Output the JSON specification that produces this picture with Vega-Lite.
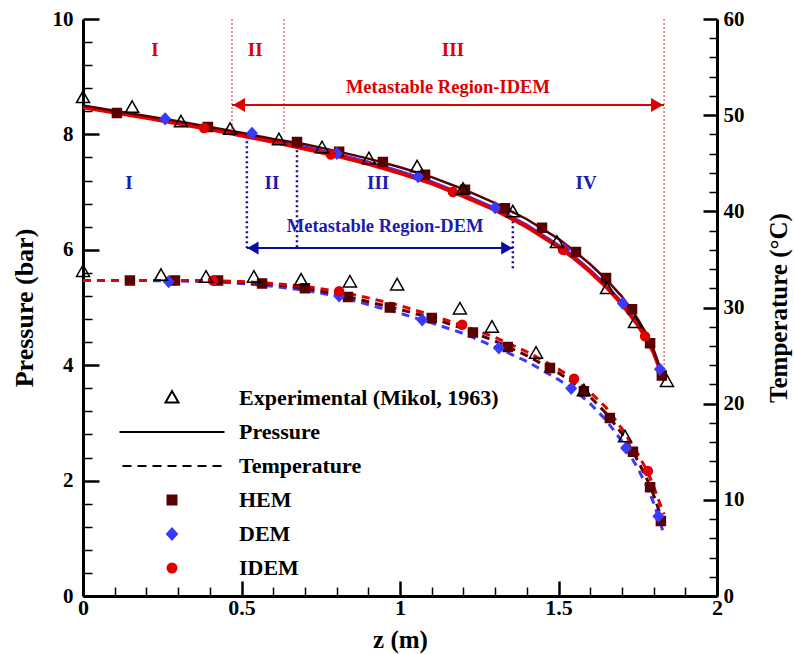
{
  "$schema": "https://vega.github.io/schema/vega-lite/v6.json",
  "width": 634,
  "height": 577,
  "autosize": {"type": "none"},
  "padding": {"left": 83, "top": 19, "right": 77, "bottom": 58},
  "background": "white",
  "config": {
    "view": {"stroke": null},
    "font": "Liberation Serif",
    "axis": {
      "grid": false, "domainColor": "black", "tickColor": "black", "labelColor": "black", "titleColor": "black",
      "labelFont": "Liberation Serif", "titleFont": "Liberation Serif", "labelFontWeight": "bold", "titleFontWeight": "bold",
      "labelFontSize": 21, "titleFontSize": 26, "domainWidth": 3, "labelOverlap": false, "labelFlush": false
    }
  },
  "datasets": {
    "redV": [
      {"z": 0.47, "p": 10, "p2": 8.08},
      {"z": 0.634, "p": 10, "p2": 8.04},
      {"z": 1.833, "p": 10, "p2": 3.78}
    ],
    "blueV": [
      {"z": 0.517, "p": 7.97, "p2": 6.03},
      {"z": 0.675, "p": 7.9, "p2": 6.03},
      {"z": 1.356, "p": 6.67, "p2": 5.65}
    ],
    "redArrow": [{"z": 0.47, "z2": 1.833, "p": 8.51}],
    "blueArrow": [{"z": 0.517, "z2": 1.356, "p": 6.03}],
    "redHeadL": [{"z": 0.492, "p": 8.51}],
    "redHeadR": [{"z": 1.811, "p": 8.51}],
    "blueHeadL": [{"z": 0.536, "p": 6.03}],
    "blueHeadR": [{"z": 1.337, "p": 6.03}],
    "redText": [
      {"z": 0.227, "p": 9.46, "t": "I", "s": 19},
      {"z": 0.543, "p": 9.46, "t": "II", "s": 19},
      {"z": 1.167, "p": 9.46, "t": "III", "s": 19},
      {"z": 1.151, "p": 8.82, "t": "Metastable Region-IDEM", "s": 18.5}
    ],
    "blueText": [
      {"z": 0.145, "p": 7.16, "t": "I", "s": 19},
      {"z": 0.596, "p": 7.16, "t": "II", "s": 19},
      {"z": 0.931, "p": 7.16, "t": "III", "s": 19},
      {"z": 1.587, "p": 7.16, "t": "IV", "s": 19},
      {"z": 0.953, "p": 6.41, "t": "Metastable Region-DEM", "s": 18.5}
    ],
    "pl": [
      {"series": "DEM", "z": 0, "p": 8.49}, {"series": "DEM", "z": 0.1, "p": 8.4}, {"series": "DEM", "z": 0.2, "p": 8.31}, {"series": "DEM", "z": 0.3, "p": 8.21}, {"series": "DEM", "z": 0.4, "p": 8.11}, {"series": "DEM", "z": 0.5, "p": 8.01}, {"series": "DEM", "z": 0.6, "p": 7.9}, {"series": "DEM", "z": 0.7, "p": 7.79}, {"series": "DEM", "z": 0.8, "p": 7.67}, {"series": "DEM", "z": 0.9, "p": 7.53}, {"series": "DEM", "z": 1.0, "p": 7.37}, {"series": "DEM", "z": 1.1, "p": 7.19}, {"series": "DEM", "z": 1.2, "p": 6.97}, {"series": "DEM", "z": 1.3, "p": 6.73}, {"series": "DEM", "z": 1.4, "p": 6.44}, {"series": "DEM", "z": 1.5, "p": 6.09}, {"series": "DEM", "z": 1.55, "p": 5.89}, {"series": "DEM", "z": 1.6, "p": 5.66}, {"series": "DEM", "z": 1.65, "p": 5.4}, {"series": "DEM", "z": 1.7, "p": 5.1}, {"series": "DEM", "z": 1.75, "p": 4.72}, {"series": "DEM", "z": 1.78, "p": 4.45}, {"series": "DEM", "z": 1.8, "p": 4.22}, {"series": "DEM", "z": 1.82, "p": 3.93}, {"series": "DEM", "z": 1.833, "p": 3.74},
      {"series": "IDEM", "z": 0, "p": 8.47}, {"series": "IDEM", "z": 0.1, "p": 8.38}, {"series": "IDEM", "z": 0.2, "p": 8.29}, {"series": "IDEM", "z": 0.3, "p": 8.19}, {"series": "IDEM", "z": 0.4, "p": 8.09}, {"series": "IDEM", "z": 0.5, "p": 7.98}, {"series": "IDEM", "z": 0.6, "p": 7.87}, {"series": "IDEM", "z": 0.7, "p": 7.75}, {"series": "IDEM", "z": 0.8, "p": 7.63}, {"series": "IDEM", "z": 0.9, "p": 7.49}, {"series": "IDEM", "z": 1.0, "p": 7.33}, {"series": "IDEM", "z": 1.1, "p": 7.15}, {"series": "IDEM", "z": 1.2, "p": 6.93}, {"series": "IDEM", "z": 1.3, "p": 6.69}, {"series": "IDEM", "z": 1.4, "p": 6.4}, {"series": "IDEM", "z": 1.5, "p": 6.05}, {"series": "IDEM", "z": 1.55, "p": 5.85}, {"series": "IDEM", "z": 1.6, "p": 5.62}, {"series": "IDEM", "z": 1.65, "p": 5.36}, {"series": "IDEM", "z": 1.7, "p": 5.06}, {"series": "IDEM", "z": 1.75, "p": 4.7}, {"series": "IDEM", "z": 1.78, "p": 4.44}, {"series": "IDEM", "z": 1.8, "p": 4.22}, {"series": "IDEM", "z": 1.82, "p": 3.93}, {"series": "IDEM", "z": 1.833, "p": 3.74},
      {"series": "HEM", "z": 0, "p": 8.5}, {"series": "HEM", "z": 0.1, "p": 8.41}, {"series": "HEM", "z": 0.2, "p": 8.32}, {"series": "HEM", "z": 0.3, "p": 8.23}, {"series": "HEM", "z": 0.4, "p": 8.13}, {"series": "HEM", "z": 0.5, "p": 8.03}, {"series": "HEM", "z": 0.6, "p": 7.92}, {"series": "HEM", "z": 0.7, "p": 7.83}, {"series": "HEM", "z": 0.8, "p": 7.71}, {"series": "HEM", "z": 0.9, "p": 7.58}, {"series": "HEM", "z": 1.0, "p": 7.43}, {"series": "HEM", "z": 1.1, "p": 7.26}, {"series": "HEM", "z": 1.2, "p": 7.05}, {"series": "HEM", "z": 1.3, "p": 6.81}, {"series": "HEM", "z": 1.4, "p": 6.53}, {"series": "HEM", "z": 1.5, "p": 6.19}, {"series": "HEM", "z": 1.55, "p": 5.98}, {"series": "HEM", "z": 1.6, "p": 5.75}, {"series": "HEM", "z": 1.65, "p": 5.49}, {"series": "HEM", "z": 1.7, "p": 5.19}, {"series": "HEM", "z": 1.75, "p": 4.8}, {"series": "HEM", "z": 1.78, "p": 4.52}, {"series": "HEM", "z": 1.8, "p": 4.27}, {"series": "HEM", "z": 1.82, "p": 3.95}, {"series": "HEM", "z": 1.833, "p": 3.76}
    ],
    "tl": [
      {"series": "DEM", "z": 0, "T": 32.8}, {"series": "DEM", "z": 0.2, "T": 32.8}, {"series": "DEM", "z": 0.4, "T": 32.7}, {"series": "DEM", "z": 0.5, "T": 32.5}, {"series": "DEM", "z": 0.6, "T": 32.2}, {"series": "DEM", "z": 0.7, "T": 31.8}, {"series": "DEM", "z": 0.8, "T": 31.2}, {"series": "DEM", "z": 0.9, "T": 30.3}, {"series": "DEM", "z": 1.0, "T": 29.4}, {"series": "DEM", "z": 1.1, "T": 28.4}, {"series": "DEM", "z": 1.2, "T": 27.3}, {"series": "DEM", "z": 1.3, "T": 25.9}, {"series": "DEM", "z": 1.4, "T": 24.4}, {"series": "DEM", "z": 1.5, "T": 22.5}, {"series": "DEM", "z": 1.55, "T": 21.4}, {"series": "DEM", "z": 1.6, "T": 20.0}, {"series": "DEM", "z": 1.65, "T": 18.3}, {"series": "DEM", "z": 1.7, "T": 16.1}, {"series": "DEM", "z": 1.75, "T": 13.3}, {"series": "DEM", "z": 1.78, "T": 11.3}, {"series": "DEM", "z": 1.8, "T": 9.7}, {"series": "DEM", "z": 1.82, "T": 7.7}, {"series": "DEM", "z": 1.833, "T": 6.4},
      {"series": "HEM", "z": 0, "T": 32.8}, {"series": "HEM", "z": 0.2, "T": 32.8}, {"series": "HEM", "z": 0.4, "T": 32.8}, {"series": "HEM", "z": 0.5, "T": 32.6}, {"series": "HEM", "z": 0.6, "T": 32.4}, {"series": "HEM", "z": 0.7, "T": 32.0}, {"series": "HEM", "z": 0.8, "T": 31.4}, {"series": "HEM", "z": 0.9, "T": 30.6}, {"series": "HEM", "z": 1.0, "T": 29.8}, {"series": "HEM", "z": 1.1, "T": 28.9}, {"series": "HEM", "z": 1.2, "T": 27.8}, {"series": "HEM", "z": 1.3, "T": 26.5}, {"series": "HEM", "z": 1.4, "T": 25.0}, {"series": "HEM", "z": 1.5, "T": 23.2}, {"series": "HEM", "z": 1.55, "T": 22.1}, {"series": "HEM", "z": 1.6, "T": 20.7}, {"series": "HEM", "z": 1.65, "T": 19.0}, {"series": "HEM", "z": 1.7, "T": 16.9}, {"series": "HEM", "z": 1.75, "T": 14.1}, {"series": "HEM", "z": 1.78, "T": 12.1}, {"series": "HEM", "z": 1.8, "T": 10.5}, {"series": "HEM", "z": 1.82, "T": 8.6}, {"series": "HEM", "z": 1.833, "T": 7.3},
      {"series": "IDEM", "z": 0, "T": 32.8}, {"series": "IDEM", "z": 0.2, "T": 32.8}, {"series": "IDEM", "z": 0.4, "T": 32.8}, {"series": "IDEM", "z": 0.5, "T": 32.7}, {"series": "IDEM", "z": 0.6, "T": 32.5}, {"series": "IDEM", "z": 0.7, "T": 32.2}, {"series": "IDEM", "z": 0.8, "T": 31.7}, {"series": "IDEM", "z": 0.9, "T": 31.0}, {"series": "IDEM", "z": 1.0, "T": 30.2}, {"series": "IDEM", "z": 1.1, "T": 29.2}, {"series": "IDEM", "z": 1.2, "T": 28.1}, {"series": "IDEM", "z": 1.3, "T": 26.9}, {"series": "IDEM", "z": 1.4, "T": 25.4}, {"series": "IDEM", "z": 1.5, "T": 23.6}, {"series": "IDEM", "z": 1.55, "T": 22.5}, {"series": "IDEM", "z": 1.6, "T": 21.2}, {"series": "IDEM", "z": 1.65, "T": 19.6}, {"series": "IDEM", "z": 1.7, "T": 17.4}, {"series": "IDEM", "z": 1.75, "T": 14.8}, {"series": "IDEM", "z": 1.78, "T": 13.0}, {"series": "IDEM", "z": 1.8, "T": 11.4}, {"series": "IDEM", "z": 1.82, "T": 9.6}, {"series": "IDEM", "z": 1.833, "T": 8.5}
    ],
    "pp": [
      {"series": "HEM", "z": 0.107, "p": 8.37}, {"series": "HEM", "z": 0.394, "p": 8.13}, {"series": "HEM", "z": 0.675, "p": 7.87}, {"series": "HEM", "z": 0.808, "p": 7.7}, {"series": "HEM", "z": 0.946, "p": 7.52}, {"series": "HEM", "z": 1.079, "p": 7.3}, {"series": "HEM", "z": 1.205, "p": 7.04}, {"series": "HEM", "z": 1.331, "p": 6.72}, {"series": "HEM", "z": 1.448, "p": 6.38}, {"series": "HEM", "z": 1.555, "p": 5.96}, {"series": "HEM", "z": 1.65, "p": 5.51}, {"series": "HEM", "z": 1.732, "p": 4.97}, {"series": "HEM", "z": 1.789, "p": 4.38}, {"series": "HEM", "z": 1.826, "p": 3.82},
      {"series": "DEM", "z": 0.259, "p": 8.27}, {"series": "DEM", "z": 0.533, "p": 8.02}, {"series": "DEM", "z": 0.801, "p": 7.67}, {"series": "DEM", "z": 1.057, "p": 7.27}, {"series": "DEM", "z": 1.3, "p": 6.73}, {"series": "DEM", "z": 1.52, "p": 6.01}, {"series": "DEM", "z": 1.703, "p": 5.07}, {"series": "DEM", "z": 1.82, "p": 3.93},
      {"series": "IDEM", "z": 0.382, "p": 8.11}, {"series": "IDEM", "z": 0.782, "p": 7.65}, {"series": "IDEM", "z": 1.167, "p": 7.0}, {"series": "IDEM", "z": 1.514, "p": 6.0}, {"series": "IDEM", "z": 1.773, "p": 4.5},
      {"series": "Experimental (Mikol, 1963)", "z": 0, "p": 8.63}, {"series": "Experimental (Mikol, 1963)", "z": 0.155, "p": 8.46}, {"series": "Experimental (Mikol, 1963)", "z": 0.309, "p": 8.21}, {"series": "Experimental (Mikol, 1963)", "z": 0.464, "p": 8.08}, {"series": "Experimental (Mikol, 1963)", "z": 0.618, "p": 7.9}, {"series": "Experimental (Mikol, 1963)", "z": 0.754, "p": 7.76}, {"series": "Experimental (Mikol, 1963)", "z": 0.902, "p": 7.57}, {"series": "Experimental (Mikol, 1963)", "z": 1.054, "p": 7.43}, {"series": "Experimental (Mikol, 1963)", "z": 1.199, "p": 7.04}, {"series": "Experimental (Mikol, 1963)", "z": 1.356, "p": 6.65}, {"series": "Experimental (Mikol, 1963)", "z": 1.495, "p": 6.12}, {"series": "Experimental (Mikol, 1963)", "z": 1.653, "p": 5.32}, {"series": "Experimental (Mikol, 1963)", "z": 1.741, "p": 4.73}, {"series": "Experimental (Mikol, 1963)", "z": 1.842, "p": 3.71}
    ],
    "tp": [
      {"series": "HEM", "z": 0.148, "T": 32.8}, {"series": "HEM", "z": 0.29, "T": 32.8}, {"series": "HEM", "z": 0.426, "T": 32.8}, {"series": "HEM", "z": 0.565, "T": 32.5}, {"series": "HEM", "z": 0.7, "T": 32.0}, {"series": "HEM", "z": 0.836, "T": 31.1}, {"series": "HEM", "z": 0.968, "T": 30.0}, {"series": "HEM", "z": 1.1, "T": 28.9}, {"series": "HEM", "z": 1.23, "T": 27.4}, {"series": "HEM", "z": 1.34, "T": 25.9}, {"series": "HEM", "z": 1.473, "T": 23.7}, {"series": "HEM", "z": 1.58, "T": 21.3}, {"series": "HEM", "z": 1.662, "T": 18.5}, {"series": "HEM", "z": 1.735, "T": 15.0}, {"series": "HEM", "z": 1.789, "T": 11.3}, {"series": "HEM", "z": 1.823, "T": 7.8},
      {"series": "DEM", "z": 0.27, "T": 32.7}, {"series": "DEM", "z": 0.808, "T": 31.2}, {"series": "DEM", "z": 1.07, "T": 28.7}, {"series": "DEM", "z": 1.312, "T": 25.8}, {"series": "DEM", "z": 1.54, "T": 21.6}, {"series": "DEM", "z": 1.713, "T": 15.4}, {"series": "DEM", "z": 1.815, "T": 8.3},
      {"series": "IDEM", "z": 0.41, "T": 32.8}, {"series": "IDEM", "z": 0.808, "T": 31.7}, {"series": "IDEM", "z": 1.196, "T": 28.2}, {"series": "IDEM", "z": 1.549, "T": 22.6}, {"series": "IDEM", "z": 1.782, "T": 13.0},
      {"series": "Experimental (Mikol, 1963)", "z": 0, "T": 33.7}, {"series": "Experimental (Mikol, 1963)", "z": 0.246, "T": 33.3}, {"series": "Experimental (Mikol, 1963)", "z": 0.388, "T": 33.1}, {"series": "Experimental (Mikol, 1963)", "z": 0.539, "T": 33.1}, {"series": "Experimental (Mikol, 1963)", "z": 0.688, "T": 32.8}, {"series": "Experimental (Mikol, 1963)", "z": 0.842, "T": 32.6}, {"series": "Experimental (Mikol, 1963)", "z": 0.991, "T": 32.3}, {"series": "Experimental (Mikol, 1963)", "z": 1.189, "T": 29.8}, {"series": "Experimental (Mikol, 1963)", "z": 1.29, "T": 27.9}, {"series": "Experimental (Mikol, 1963)", "z": 1.429, "T": 25.2}, {"series": "Experimental (Mikol, 1963)", "z": 1.58, "T": 21.3}, {"series": "Experimental (Mikol, 1963)", "z": 1.71, "T": 16.5}
    ]
  },
  "layer": [
    {
      "layer": [
        {
          "data": {"name": "redV"},
          "mark": {"type": "rule", "color": "#ec4848", "strokeWidth": 1.2, "strokeDash": [2, 2]},
          "encoding": {
            "x": {"field": "z", "type": "quantitative", "scale": {"domain": [0, 2], "nice": false, "zero": false},
              "axis": {
                "orient": "bottom",
                "title": "z (m)",
                "values": [0, 0.5, 1, 1.5, 2],
                "labelExpr": "toString(datum.value)",
                "tickSize": -15, "tickWidth": 2.5,
                "labelOverlap": false, "labelFontSize": 22, "titleFontSize": 25,
                "labelPadding": 16, "titlePadding": 9
              }},
            "y": {"field": "p", "type": "quantitative", "scale": {"domain": [0, 10], "nice": false},
              "axis": {
                "orient": "left",
                "title": null,
                "values": [0.4, 0.8, 1.2, 1.6, 2.4, 2.8, 3.2, 3.6, 4.4, 4.8, 5.2, 5.6, 6.4, 6.8, 7.2, 7.6, 8.4, 8.8, 9.2, 9.6],
                "labels": false, "domain": false, "tickSize": -9, "tickWidth": 1.5
              }},
            "y2": {"field": "p2"}
          }
        },
        {
          "layer": [
            {
              "data": {"name": "blueV"},
              "mark": {"type": "rule", "color": "#0a0aa8", "strokeWidth": 2.5, "strokeDash": [2, 3]},
              "encoding": {
                "x": {"field": "z", "type": "quantitative"},
                "y": {"field": "p", "type": "quantitative",
                  "axis": {
                    "orient": "left",
                    "title": "Pressure (bar)",
                    "values": [0, 2, 4, 6, 8, 10],
                    "labelExpr": "toString(datum.value)",
                    "tickSize": -16, "tickWidth": 2.5,
                    "labelOverlap": false,
                    "labelPadding": 26, "titlePadding": 15
                  }},
                "y2": {"field": "p2"}
              }
            },
            {
              "data": {"name": "redArrow"},
              "mark": {"type": "rule", "color": "#dd0000", "strokeWidth": 2},
              "encoding": {
                "x": {"field": "z", "type": "quantitative"},
                "x2": {"field": "z2"},
                "y": {"field": "p", "type": "quantitative"}
              }
            },
            {
              "data": {"name": "blueArrow"},
              "mark": {"type": "rule", "color": "#0a0aa8", "strokeWidth": 2},
              "encoding": {
                "x": {"field": "z", "type": "quantitative"},
                "x2": {"field": "z2"},
                "y": {"field": "p", "type": "quantitative"}
              }
            },
            {
              "data": {"name": "redHeadL"},
              "mark": {"type": "point", "shape": "triangle-left", "size": 196, "filled": true, "color": "#dd0000", "opacity": 1},
              "encoding": {"x": {"field": "z", "type": "quantitative"}, "y": {"field": "p", "type": "quantitative"}}
            },
            {
              "data": {"name": "redHeadR"},
              "mark": {"type": "point", "shape": "triangle-right", "size": 196, "filled": true, "color": "#dd0000", "opacity": 1},
              "encoding": {"x": {"field": "z", "type": "quantitative"}, "y": {"field": "p", "type": "quantitative"}}
            },
            {
              "data": {"name": "blueHeadL"},
              "mark": {"type": "point", "shape": "triangle-left", "size": 169, "filled": true, "color": "#0a0aa8", "opacity": 1},
              "encoding": {"x": {"field": "z", "type": "quantitative"}, "y": {"field": "p", "type": "quantitative"}}
            },
            {
              "data": {"name": "blueHeadR"},
              "mark": {"type": "point", "shape": "triangle-right", "size": 169, "filled": true, "color": "#0a0aa8", "opacity": 1},
              "encoding": {"x": {"field": "z", "type": "quantitative"}, "y": {"field": "p", "type": "quantitative"}}
            },
            {
              "data": {"name": "redText"},
              "mark": {"type": "text", "color": "#dd0000", "font": "Liberation Serif", "fontWeight": "bold", "align": "center", "baseline": "middle"},
              "encoding": {
                "x": {"field": "z", "type": "quantitative"},
                "y": {"field": "p", "type": "quantitative"},
                "text": {"field": "t"},
                "size": {"field": "s", "type": "quantitative", "scale": null}
              }
            },
            {
              "data": {"name": "blueText"},
              "mark": {"type": "text", "color": "#1c1cb0", "font": "Liberation Serif", "fontWeight": "bold", "align": "center", "baseline": "middle"},
              "encoding": {
                "x": {"field": "z", "type": "quantitative"},
                "y": {"field": "p", "type": "quantitative"},
                "text": {"field": "t"},
                "size": {"field": "s", "type": "quantitative", "scale": null}
              }
            },
            {
              "data": {"name": "pl"},
              "transform": [{"filter": "datum.series === 'DEM'"}],
              "mark": {"type": "line", "strokeWidth": 2},
              "encoding": {
                "x": {"field": "z", "type": "quantitative"},
                "y": {"field": "p", "type": "quantitative"},
                "stroke": {"field": "series", "type": "nominal",
                  "scale": {"domain": ["Experimental (Mikol, 1963)", "Pressure", "Temperature", "HEM", "DEM", "IDEM"], "range": ["black", "black", "black", "#5a0000", "#3a3aff", "#e00000"]}}
              }
            },
            {
              "data": {"name": "pl"},
              "transform": [{"filter": "datum.series === 'IDEM'"}],
              "mark": {"type": "line", "strokeWidth": 4},
              "encoding": {
                "x": {"field": "z", "type": "quantitative"},
                "y": {"field": "p", "type": "quantitative"},
                "stroke": {"field": "series", "type": "nominal",
                  "scale": {"domain": ["Experimental (Mikol, 1963)", "Pressure", "Temperature", "HEM", "DEM", "IDEM"], "range": ["black", "black", "black", "#5a0000", "#3a3aff", "#e00000"]}}
              }
            },
            {
              "data": {"name": "pl"},
              "transform": [{"filter": "datum.series === 'HEM'"}],
              "mark": {"type": "line", "strokeWidth": 2.5},
              "encoding": {
                "x": {"field": "z", "type": "quantitative"},
                "y": {"field": "p", "type": "quantitative"},
                "stroke": {"field": "series", "type": "nominal",
                  "scale": {"domain": ["Experimental (Mikol, 1963)", "Pressure", "Temperature", "HEM", "DEM", "IDEM"], "range": ["black", "black", "black", "#5a0000", "#3a3aff", "#e00000"]}}
              }
            },
            {
              "data": {"name": "pp"},
              "mark": {"type": "point", "size": 4, "opacity": 1, "strokeWidth": 1.5},
              "encoding": {
                "x": {"field": "z", "type": "quantitative"},
                "y": {"field": "p", "type": "quantitative"},
                "shape": {"field": "series", "type": "nominal",
                  "scale": {"domain": ["Experimental (Mikol, 1963)", "Pressure", "Temperature", "HEM", "DEM", "IDEM"],
                    "range": ["M0,-7L6.5,4.5L-6.5,4.5Z", "M-52.5,0H52.5", "M-49.5,0H-40.5M-34.5,0H-25.5M-19.5,0H-10.5M-4.5,0H4.5M10.5,0H19.5M25.5,0H34.5M40.5,0H49.5", "M-4.5,-4.5H4.5V4.5H-4.5Z", "M0,-5.5L5,0L0,5.5L-5,0Z", "M-4.5,0A4.5,4.5,0,1,0,4.5,0A4.5,4.5,0,1,0,-4.5,0Z"]},
                  "legend": {"orient": "none", "legendX": 78, "legendY": 368, "title": null, "symbolSize": 4, "labelOffset": 56, "rowPadding": 12, "padding": 0,
                    "labelFont": "Liberation Serif", "labelFontWeight": "bold", "labelFontSize": 22, "labelColor": "black", "symbolStrokeWidth": 2, "labelLimit": 400}},
                "fill": {"field": "series", "type": "nominal",
                  "scale": {"domain": ["Experimental (Mikol, 1963)", "Pressure", "Temperature", "HEM", "DEM", "IDEM"], "range": ["transparent", "transparent", "transparent", "#5a0000", "#3a3aff", "#e00000"]},
                  "legend": {"orient": "none", "legendX": 78, "legendY": 368, "title": null, "symbolSize": 4, "labelOffset": 56, "rowPadding": 12, "padding": 0,
                    "labelFont": "Liberation Serif", "labelFontWeight": "bold", "labelFontSize": 22, "labelColor": "black", "symbolStrokeWidth": 2, "labelLimit": 400}},
                "stroke": {"field": "series", "type": "nominal",
                  "scale": {"domain": ["Experimental (Mikol, 1963)", "Pressure", "Temperature", "HEM", "DEM", "IDEM"], "range": ["black", "black", "black", "#5a0000", "#3a3aff", "#e00000"]},
                  "legend": {"orient": "none", "legendX": 78, "legendY": 368, "title": null, "symbolSize": 4, "labelOffset": 56, "rowPadding": 12, "padding": 0,
                    "labelFont": "Liberation Serif", "labelFontWeight": "bold", "labelFontSize": 22, "labelColor": "black", "symbolStrokeWidth": 2, "labelLimit": 400}}
              }
            }
          ]
        }
      ],
      "resolve": {"axis": {"y": "independent"}}
    },
    {
      "layer": [
        {
          "data": {"name": "tl"},
          "transform": [{"filter": "datum.series === 'DEM'"}],
          "mark": {"type": "line", "strokeWidth": 3, "strokeDash": [8, 6]},
          "encoding": {
            "x": {"field": "z", "type": "quantitative",
              "axis": {
                "orient": "bottom",
                "title": null,
                "values": [0.1, 0.2, 0.3, 0.4, 0.6, 0.7, 0.8, 0.9, 1.1, 1.2, 1.3, 1.4, 1.6, 1.7, 1.8, 1.9],
                "labels": false, "domain": false, "tickSize": -9, "tickWidth": 1.5
              }},
            "y": {"field": "T", "type": "quantitative", "scale": {"domain": [0, 60], "nice": false},
              "axis": {
                "orient": "right",
                "title": null,
                "values": [2, 4, 6, 8, 12, 14, 16, 18, 22, 24, 26, 28, 32, 34, 36, 38, 42, 44, 46, 48, 52, 54, 56, 58],
                "labels": false, "domain": false, "tickSize": -8, "tickWidth": 1.5
              }},
            "stroke": {"field": "series", "type": "nominal",
              "scale": {"domain": ["Experimental (Mikol, 1963)", "Pressure", "Temperature", "HEM", "DEM", "IDEM"], "range": ["black", "black", "black", "#5a0000", "#3a3aff", "#e00000"]}}
          }
        },
        {
          "layer": [
            {
              "data": {"name": "tl"},
              "transform": [{"filter": "datum.series === 'HEM'"}],
              "mark": {"type": "line", "strokeWidth": 3, "strokeDash": [8, 6]},
              "encoding": {
                "x": {"field": "z", "type": "quantitative"},
                "y": {"field": "T", "type": "quantitative",
                  "axis": {
                    "orient": "right",
                    "title": "Temperature (°C)",
                    "titleAngle": 270,
                    "values": [0, 10, 20, 30, 40, 50, 60],
                    "labelExpr": "toString(datum.value)",
                    "tickSize": -14, "tickWidth": 2.5,
                    "labelOverlap": false, "titleFontSize": 25,
                    "labelPadding": 20, "titlePadding": 47
                  }},
                "stroke": {"field": "series", "type": "nominal",
                  "scale": {"domain": ["Experimental (Mikol, 1963)", "Pressure", "Temperature", "HEM", "DEM", "IDEM"], "range": ["black", "black", "black", "#5a0000", "#3a3aff", "#e00000"]}}
              }
            },
            {
              "data": {"name": "tl"},
              "transform": [{"filter": "datum.series === 'IDEM'"}],
              "mark": {"type": "line", "strokeWidth": 3, "strokeDash": [8, 6]},
              "encoding": {
                "x": {"field": "z", "type": "quantitative"},
                "y": {"field": "T", "type": "quantitative"},
                "stroke": {"field": "series", "type": "nominal",
                  "scale": {"domain": ["Experimental (Mikol, 1963)", "Pressure", "Temperature", "HEM", "DEM", "IDEM"], "range": ["black", "black", "black", "#5a0000", "#3a3aff", "#e00000"]}}
              }
            },
            {
              "data": {"name": "tp"},
              "mark": {"type": "point", "size": 4, "opacity": 1, "strokeWidth": 1.5},
              "encoding": {
                "x": {"field": "z", "type": "quantitative"},
                "y": {"field": "T", "type": "quantitative"},
                "shape": {"field": "series", "type": "nominal",
                  "scale": {"domain": ["Experimental (Mikol, 1963)", "Pressure", "Temperature", "HEM", "DEM", "IDEM"],
                    "range": ["M0,-7L6.5,4.5L-6.5,4.5Z", "M-52.5,0H52.5", "M-49.5,0H-40.5M-34.5,0H-25.5M-19.5,0H-10.5M-4.5,0H4.5M10.5,0H19.5M25.5,0H34.5M40.5,0H49.5", "M-4.5,-4.5H4.5V4.5H-4.5Z", "M0,-5.5L5,0L0,5.5L-5,0Z", "M-4.5,0A4.5,4.5,0,1,0,4.5,0A4.5,4.5,0,1,0,-4.5,0Z"]}},
                "fill": {"field": "series", "type": "nominal",
                  "scale": {"domain": ["Experimental (Mikol, 1963)", "Pressure", "Temperature", "HEM", "DEM", "IDEM"], "range": ["transparent", "transparent", "transparent", "#5a0000", "#3a3aff", "#e00000"]}},
                "stroke": {"field": "series", "type": "nominal",
                  "scale": {"domain": ["Experimental (Mikol, 1963)", "Pressure", "Temperature", "HEM", "DEM", "IDEM"], "range": ["black", "black", "black", "#5a0000", "#3a3aff", "#e00000"]}}
              }
            }
          ]
        }
      ],
      "resolve": {"axis": {"y": "independent"}}
    }
  ],
  "resolve": {"scale": {"y": "independent"}, "axis": {"x": "independent"}}
}
